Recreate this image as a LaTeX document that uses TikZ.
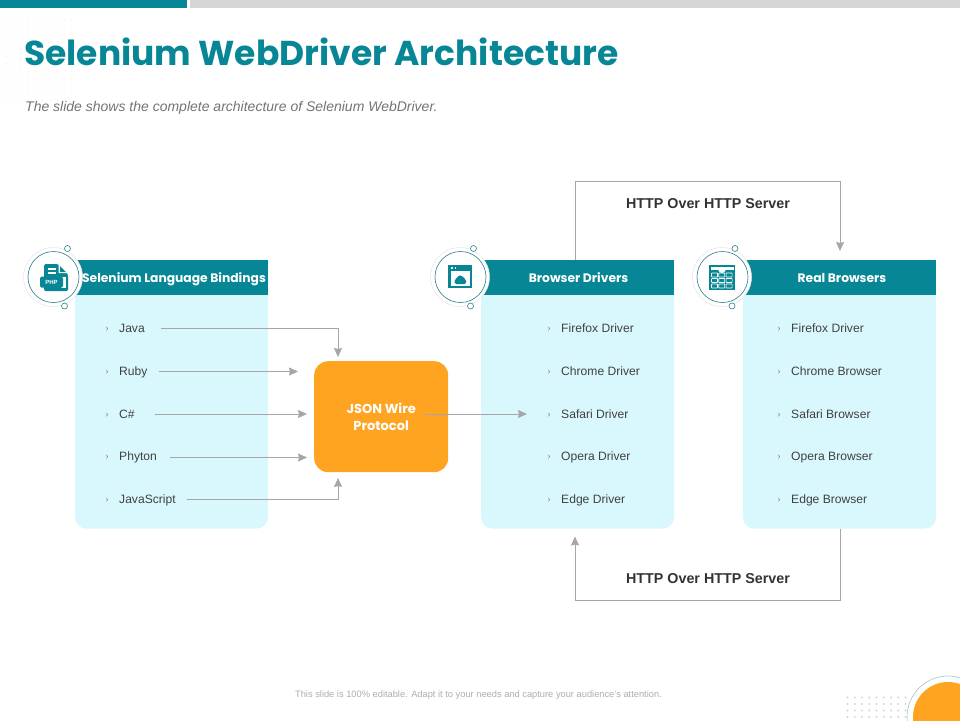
\documentclass[tikz,border=0pt]{standalone}
\usepackage{fontspec}
\setmainfont{Liberation Sans}
\newfontfamily\geo{Poppins}
\usetikzlibrary{arrows.meta,calc}
\definecolor{teal1}{HTML}{078696}
\definecolor{pale}{HTML}{D9F8FD}
\definecolor{orng}{HTML}{FFA420}
\definecolor{arrowgray}{HTML}{A6A6A6}
\definecolor{bodytxt}{HTML}{404040}
\definecolor{ringteal}{HTML}{2F7F8C}
\tikzset{
  itemtxt/.style={anchor=west,inner sep=0pt,text height=9pt,text depth=3pt,text=bodytxt,font=\fontsize{12.1}{14}\selectfont},
  chev/.style={anchor=center,inner sep=0pt,text=gray,font=\fontsize{9}{10}\selectfont},
  headtxt/.style={anchor=center,inner sep=0pt,text height=9pt,text depth=3pt,text=white,font=\geo\bfseries\fontsize{12.3}{14}\selectfont},
  httptxt/.style={anchor=center,inner sep=0pt,text=black!80,font=\bfseries\fontsize{14.3}{16}\selectfont},
  conn/.style={draw=arrowgray,line width=0.8pt,-{Stealth[length=9pt,width=8pt,inset=1pt]}},
  cardhead/.style={fill=teal1,draw=none},
  ringouter/.style={draw=black!10,line width=0.5pt,fill=white},
  ringinner/.style={draw=ringteal,line width=0.6pt,fill=white},
  ringdot/.style={draw=ringteal,line width=0.6pt,fill=white}
}
\newcommand{\drawcard}[2]{%
  \fill[pale,rounded corners=11pt] (#1,270) rectangle (#2,528.5);
  \fill[cardhead] (#1,260) rectangle (#2,295);
}
\newcommand{\drawrings}[3]{%
  \draw[ringouter] (#1,277) circle (29.5);
  \draw[ringinner] (#1+0.5,277) circle (25.5);
  \draw[ringdot] (#2,248.5) circle (3);
  \draw[ringdot] (#3,306) circle (3);
}
\begin{document}
\begin{tikzpicture}[x=1pt,y=-1pt]
\useasboundingbox (0,0) rectangle (960,720);
% top bars
\fill[teal1] (0,0) rectangle (187,8);
\fill[black!16] (190,0) rectangle (960,8);
% faint dots top left
\foreach \i in {0,...,9}{\foreach \j in {0,...,11}{
  \fill[orange!7] (6+7.3*\i,20+7.3*\j) circle (1);
}}
% title
\node[anchor=west,inner sep=0pt,text=teal1] (title) at (24,52) {\geo\bfseries\fontsize{34.5}{40}\selectfont Selenium WebDriver Architecture};
\node[anchor=west,inner sep=0pt,text=black!55] (sub) at (25,108) {\itshape\fontsize{14}{16}\selectfont The slide shows the complete architecture of Selenium WebDriver.};
% cards
\drawcard{75}{268}
\drawcard{481}{674}
\drawcard{743}{936}
\coordinate (drvtop) at (575,260);
\coordinate (topL) at (575,181);
\coordinate (topR) at (840,181);
\coordinate (brwtop) at (840,251);
\coordinate (brwbot) at (840,528.5);
\coordinate (botR) at (840,600);
\coordinate (botL) at (575,600);
\coordinate (drvbot) at (575,536.5);
% rings
\drawrings{53}{67.5}{64.5}
\drawrings{460}{473.5}{470.5}
\drawrings{722}{735}{732}
% PHP icon
\fill[teal1,rounded corners=1.5pt] (44,264) -- (58,264) -- (68,274) -- (68,291) -- (44,291) -- cycle;
\fill[white] (58.5,263.5) -- (58.5,273) -- (68.5,273) -- cycle;
\fill[teal1] (60,266) -- (60,272) -- (66,272) -- cycle;
\fill[white] (48,268) rectangle (56,269.5);
\fill[white] (48,272) rectangle (56,273.5);
\fill[white] (61,277) rectangle (66,287.5);
\fill[teal1,rounded corners=1.5pt] (40,276.5) rectangle (63,287.5);
\node[inner sep=0pt,text=white] (phplabel) at (51.5,282) {\bfseries\fontsize{6}{7}\selectfont PHP};
% browser icon
\fill[teal1] (448,265) rectangle (472,288);
\fill[white] (450.5,271) rectangle (469.5,285.5);
\fill[white] (451,267) rectangle (452.5,268.7);
\fill[white] (454.5,267) rectangle (456,268.7);
\fill[teal1,rounded corners=1.5pt] (454.5,284) -- (454.5,279.5) -- (457,278.5) -- (458,275.5) -- (462,275.5) -- (463.5,278) -- (466,279.5) -- (466,284) -- cycle;
% calendar icon
\fill[teal1] (709,265) rectangle (735,290);
\fill[white] (710.5,267) rectangle (733.5,270);
\draw[teal1,line width=0.6pt,fill=white] (718,270) arc[start angle=180,end angle=360,radius=4,y radius=-3.5];
\foreach \c in {0,1,2}{\foreach \r in {0,1,2}{
  \draw[white,line width=0.7pt,rounded corners=0.5pt] (711.5+7.3*\c,273+5.5*\r) rectangle +(6,4);
}}
% header labels
\node[headtxt] (h1) at (174,279.5) {Selenium Language Bindings};
\node[headtxt] (h2) at (578.5,279.5) {Browser Drivers};
\node[headtxt] (h3) at (842,279.5) {Real Browsers};
% list 1
\node[chev] (c1a) at (107,329) {›};
\node[chev] (c1b) at (107,372) {›};
\node[chev] (c1c) at (107,415) {›};
\node[chev] (c1d) at (107,457.5) {›};
\node[chev] (c1e) at (107,500) {›};
\node[itemtxt] (java) at (119,329) {Java};
\node[itemtxt] (ruby) at (119,372) {Ruby};
\node[itemtxt] (csharp) at (119,415) {C\#};
\node[itemtxt] (phyton) at (119,457.5) {Phyton};
\node[itemtxt] (js) at (119,500) {JavaScript};
% list 2
\node[chev] (c2a) at (549,329) {›};
\node[chev] (c2b) at (549,372) {›};
\node[chev] (c2c) at (549,415) {›};
\node[chev] (c2d) at (549,457.5) {›};
\node[chev] (c2e) at (549,500) {›};
\node[itemtxt] (d1) at (561,329) {Firefox Driver};
\node[itemtxt] (d2) at (561,372) {Chrome Driver};
\node[itemtxt] (d3) at (561,415) {Safari Driver};
\node[itemtxt] (d4) at (561,457.5) {Opera Driver};
\node[itemtxt] (d5) at (561,500) {Edge Driver};
% list 3
\node[chev] (c3a) at (779,329) {›};
\node[chev] (c3b) at (779,372) {›};
\node[chev] (c3c) at (779,415) {›};
\node[chev] (c3d) at (779,457.5) {›};
\node[chev] (c3e) at (779,500) {›};
\node[itemtxt] (b1) at (791,329) {Firefox Driver};
\node[itemtxt] (b2) at (791,372) {Chrome Browser};
\node[itemtxt] (b3) at (791,415) {Safari Browser};
\node[itemtxt] (b4) at (791,457.5) {Opera Browser};
\node[itemtxt] (b5) at (791,500) {Edge Browser};
% JSON box
\node[fill=orng,rounded corners=14pt,minimum width=134pt,minimum height=111pt,inner sep=0pt,anchor=north west,align=center,
  text=white,font=\geo\bfseries\fontsize{13}{17}\selectfont] (json) at (314,361) {JSON Wire\\Protocol};
% coordinates
\coordinate (jtop) at (338,357);
\coordinate (jbot) at (338,478);
\coordinate (jin) at (425,414);
\coordinate (jout) at (527,414);
\coordinate (rubyend) at (298,371.5);
\coordinate (csend) at (307,414);
\coordinate (phyend) at (307,457.5);
% connectors
\draw[conn] ([xshift=16pt,yshift=1pt]java.east) -| (jtop);
\draw[conn] ([xshift=11pt,yshift=.5pt]ruby.east) -- (rubyend);
\draw[conn] ([xshift=20pt,yshift=1pt]csharp.east) -- (csend);
\draw[conn] ([xshift=13pt]phyton.east) -- (phyend);
\draw[conn] ([xshift=11pt,yshift=.5pt]js.east) -| (jbot);
\draw[conn] (jin) -- (jout);
\draw[conn] (drvtop) -- (topL) -- (topR) -- (brwtop);
\draw[conn] (brwbot) -- (botR) -- (botL) -- (drvbot);
\node[httptxt] (http1) at (708,204) {HTTP Over HTTP Server};
\node[httptxt] (http2) at (708,579) {HTTP Over HTTP Server};
% footer
\node[inner sep=0pt,text=black!32] (foot) at (478.5,695) {\fontsize{9.3}{10}\selectfont This slide is 100\% editable. Adapt it to your needs and capture your audience's attention.};
% bottom right
\foreach \i in {0,...,8}{\foreach \j in {0,1,2,3}{
  \fill[black!16] (847.5+7.25*\i,697.5+6.5*\j) circle (1.2);
}}
\draw[ringteal!45,line width=0.6pt,fill=white] (948,717) circle (41);
\fill[orng] (948,717) circle (35);
\end{tikzpicture}
\end{document}
